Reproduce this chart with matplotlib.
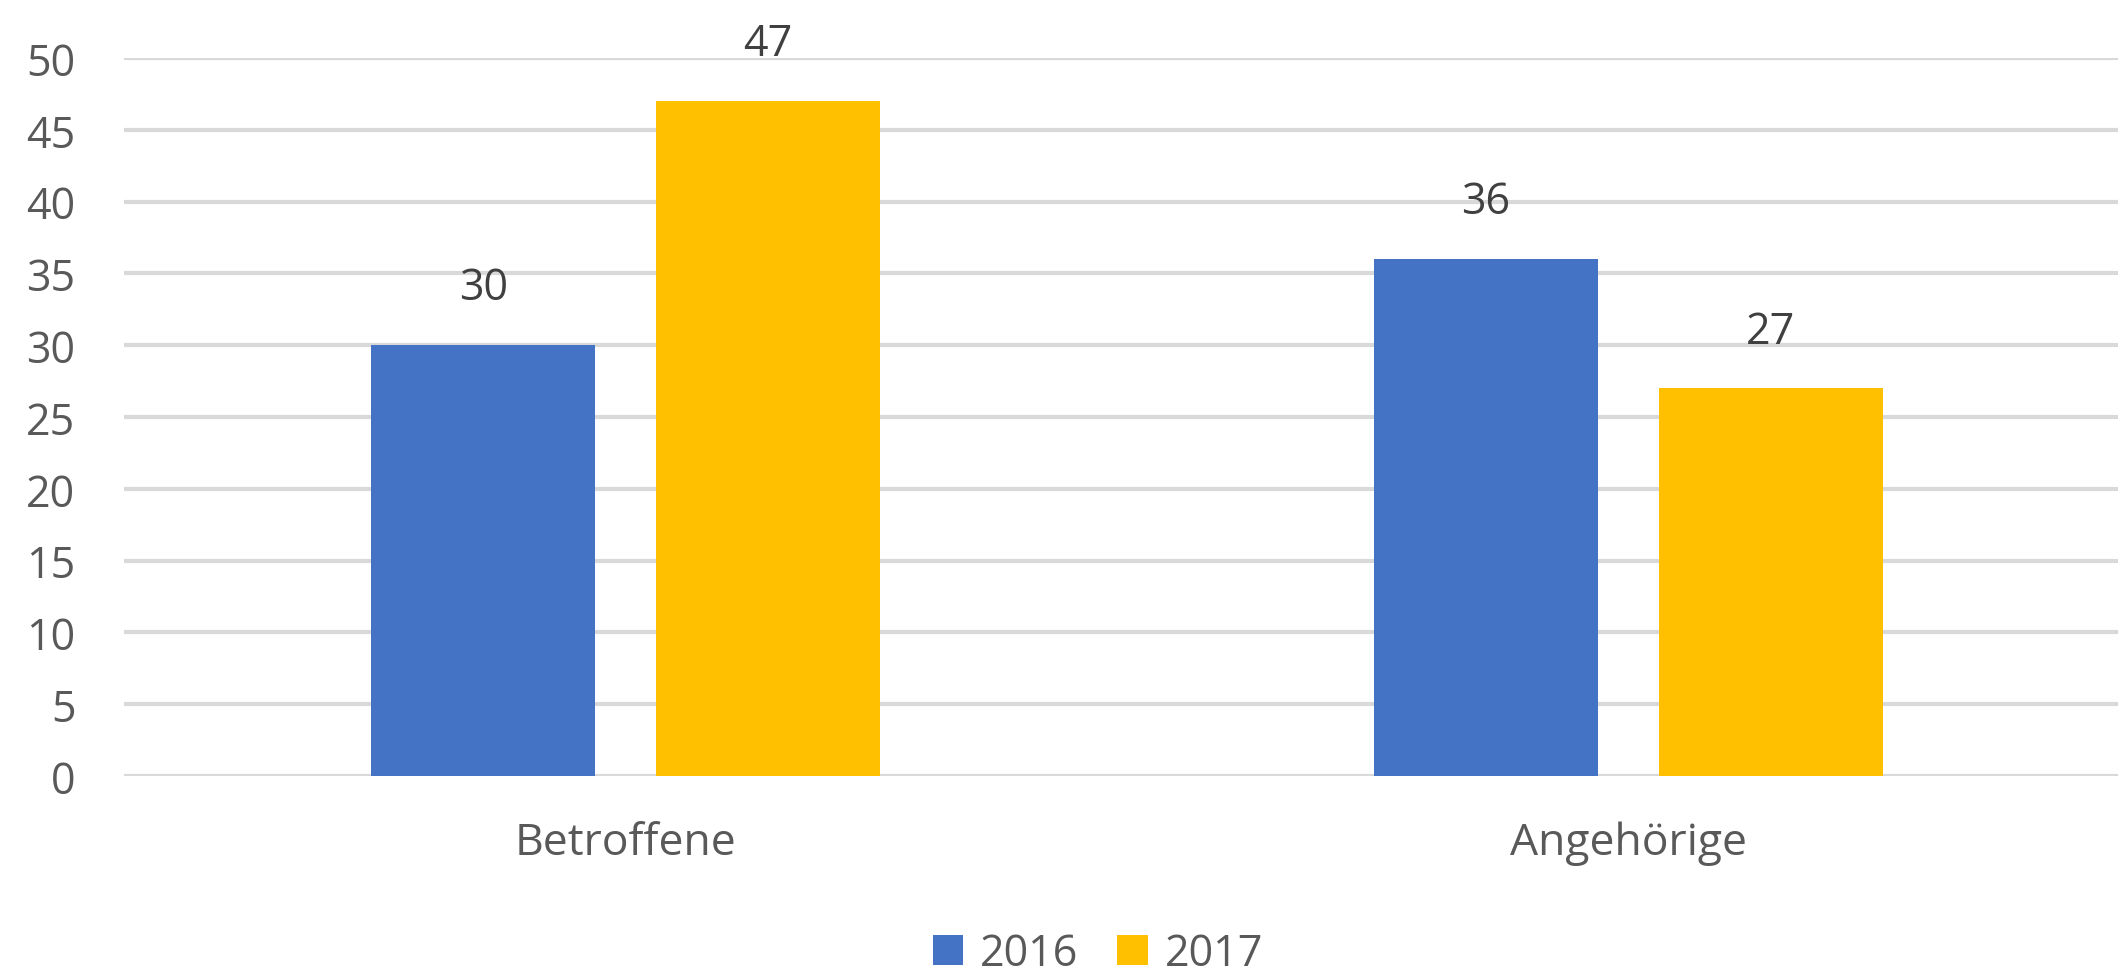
import numpy as np
import matplotlib.pyplot as plt

plt.rcParams['font.family'] = ['Open Sans', 'DejaVu Sans']

categories = ['Betroffene', 'Angehörige']
years = ['2016', '2017']
values_2016 = [30, 36]
values_2017 = [47, 27]
colors = ['#4472C4', '#FFC000']

fig = plt.figure(figsize=(21.18, 9.79), dpi=100)
# axes runs a little past the right edge of the figure, as in the reference
ax = fig.add_axes([124 / 2118, 1 - 777 / 979, 2006 / 2118, (777 - 59) / 979])

x = np.arange(len(categories))
w = 0.224
off = 0.142
b1 = ax.bar(x - off, values_2016, w, color=colors[0], label=years[0], zorder=3)
b2 = ax.bar(x + off, values_2017, w, color=colors[1], label=years[1], zorder=3)

for bars in (b1, b2):
    for r in bars:
        ax.annotate(str(int(r.get_height())), (r.get_x() + r.get_width() / 2, r.get_height()),
                    xytext=(0, 25), textcoords='offset points', ha='center', va='bottom',
                    fontsize=31, color='#404040')

ax.set_ylim(0, 50)
ax.set_xlim(-0.5, 1.5)
ax.set_yticks(range(0, 51, 5))
ax.set_xticks(x)
ax.set_xticklabels(categories)
ax.tick_params(axis='y', length=0, pad=35, labelsize=31, labelcolor='#595959')
ax.tick_params(axis='x', length=0, pad=32, labelsize=32, labelcolor='#595959')
ax.grid(axis='y', color='#D9D9D9', linewidth=3, zorder=0)
for s in ax.spines.values():
    s.set_visible(False)

fig.legend(loc='center', bbox_to_anchor=(1098 / 2118, 1 - 955 / 979), ncol=2, frameon=False,
           fontsize=31, labelcolor='#595959', handlelength=0.7, handleheight=0.7,
           handletextpad=0.4, columnspacing=0.9, borderpad=0)

fig.savefig('out.png', dpi=100)
